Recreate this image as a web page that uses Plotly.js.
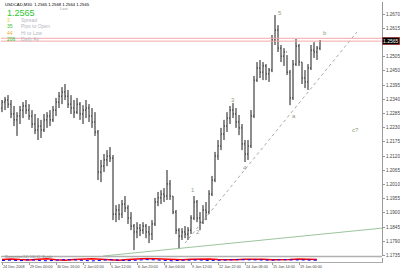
<!DOCTYPE html>
<html><head><meta charset="utf-8">
<script src="https://cdn.plot.ly/plotly-3.0.1.min.js"></script>
<style>html,body{margin:0;padding:0;background:#fff}#c{width:400px;height:270px}</style>
</head><body><div id="c"></div>
<script>
// ---- data (USDCAD M30) ----
const openP  = [1.2306,1.2329,1.2337,1.2321,1.2283,1.2260,1.2275,1.2298,1.2314,1.2298,1.2275,1.2244,1.2221,1.2236,1.2221,1.2260,1.2275,1.2260,1.2298,1.2329,1.2352,1.2368,1.2352,1.2321,1.2306,1.2290,1.2321,1.2283,1.2298,1.2306,1.2275,1.2252,1.2213,1.2058,1.2081,1.2105,1.2120,1.2112,1.1895,1.1911,1.1895,1.1934,1.1919,1.1880,1.1849,1.1826,1.1841,1.1833,1.1849,1.1826,1.1818,1.1857,1.1942,1.1958,1.1973,1.1965,1.2012,1.1965,1.1903,1.1833,1.1810,1.1826,1.1818,1.1833,1.1880,1.1942,1.1880,1.1864,1.1911,1.1903,1.1973,1.2027,1.2120,1.2159,1.2205,1.2236,1.2267,1.2298,1.2283,1.2252,1.2229,1.2167,1.2128,1.2159,1.2275,1.2414,1.2461,1.2445,1.2469,1.2438,1.2453,1.2569,1.2608,1.2538,1.2507,1.2523,1.2445,1.2345,1.2476,1.2546,1.2484,1.2422,1.2407,1.2461,1.2530,1.2523,1.2538];
const highP  = [1.2337,1.2349,1.2356,1.2337,1.2314,1.2290,1.2314,1.2329,1.2337,1.2321,1.2298,1.2283,1.2267,1.2260,1.2283,1.2290,1.2298,1.2314,1.2345,1.2368,1.2387,1.2399,1.2376,1.2356,1.2337,1.2345,1.2329,1.2317,1.2337,1.2321,1.2306,1.2290,1.2221,1.2105,1.2128,1.2143,1.2155,1.2124,1.1930,1.1934,1.1950,1.1965,1.1930,1.1903,1.1857,1.1864,1.1857,1.1864,1.1857,1.1849,1.1872,1.1958,1.1981,1.1988,1.1996,1.2066,1.2027,1.1965,1.1911,1.1841,1.1841,1.1849,1.1845,1.1891,1.1965,1.1950,1.1903,1.1930,1.1942,1.1988,1.2043,1.2136,1.2182,1.2229,1.2260,1.2290,1.2314,1.2325,1.2306,1.2279,1.2244,1.2182,1.2182,1.2298,1.2430,1.2484,1.2492,1.2484,1.2476,1.2461,1.2589,1.2666,1.2627,1.2550,1.2538,1.2511,1.2453,1.2492,1.2573,1.2554,1.2484,1.2453,1.2476,1.2550,1.2561,1.2546,1.2569];
const lowP   = [1.2290,1.2298,1.2306,1.2267,1.2236,1.2198,1.2244,1.2267,1.2283,1.2260,1.2229,1.2205,1.2182,1.2190,1.2213,1.2229,1.2236,1.2252,1.2275,1.2306,1.2321,1.2337,1.2306,1.2283,1.2267,1.2283,1.2260,1.2244,1.2267,1.2252,1.2229,1.2198,1.2027,1.2019,1.2058,1.2081,1.2097,1.1872,1.1864,1.1872,1.1880,1.1903,1.1857,1.1833,1.1756,1.1802,1.1810,1.1818,1.1802,1.1783,1.1795,1.1849,1.1926,1.1934,1.1942,1.1950,1.1950,1.1895,1.1818,1.1760,1.1795,1.1802,1.1795,1.1818,1.1872,1.1864,1.1833,1.1857,1.1872,1.1895,1.1965,1.2019,1.2105,1.2143,1.2182,1.2213,1.2244,1.2267,1.2229,1.2201,1.2143,1.2097,1.2105,1.2151,1.2267,1.2407,1.2422,1.2414,1.2414,1.2407,1.2445,1.2550,1.2523,1.2484,1.2469,1.2434,1.2317,1.2337,1.2469,1.2469,1.2399,1.2383,1.2376,1.2453,1.2500,1.2492,1.2530];
const closeP = [1.2329,1.2337,1.2321,1.2283,1.2260,1.2275,1.2298,1.2314,1.2298,1.2275,1.2244,1.2221,1.2236,1.2221,1.2260,1.2275,1.2260,1.2298,1.2329,1.2352,1.2368,1.2352,1.2321,1.2306,1.2290,1.2321,1.2283,1.2298,1.2306,1.2275,1.2252,1.2213,1.2058,1.2081,1.2105,1.2120,1.2112,1.1895,1.1911,1.1895,1.1934,1.1919,1.1880,1.1849,1.1826,1.1841,1.1833,1.1849,1.1826,1.1818,1.1857,1.1942,1.1958,1.1973,1.1965,1.2012,1.1965,1.1903,1.1833,1.1810,1.1826,1.1818,1.1833,1.1880,1.1942,1.1880,1.1864,1.1911,1.1903,1.1973,1.2027,1.2120,1.2159,1.2205,1.2236,1.2267,1.2298,1.2283,1.2252,1.2229,1.2167,1.2128,1.2159,1.2275,1.2414,1.2461,1.2445,1.2469,1.2438,1.2453,1.2569,1.2608,1.2538,1.2507,1.2523,1.2445,1.2345,1.2476,1.2546,1.2484,1.2422,1.2407,1.2461,1.2530,1.2523,1.2538,1.2565];

const timeTickIdx = [0,9,18,27,36,45,54,63,72,81,90,99];
const timeTickLabels = ["24 Dec 2008","29 Dec 00:00","30 Dec 16:00","2 Jan 02:00","5 Jan 12:00","6 Jan 20:00","8 Jan 04:00","9 Jan 12:00","12 Jan 22:00","14 Jan 06:00","15 Jan 14:00","19 Jan 00:00"];
const priceTicks = [1.1735,1.1790,1.1845,1.1900,1.1955,1.2010,1.2065,1.2120,1.2175,1.2230,1.2285,1.2340,1.2395,1.2450,1.2505,1.2560,1.2615,1.2670];

const bidPrice = 1.2565, askPrice = 1.2576;
const trendX = [33.7, 126.7], trendY = [1.1733, 1.1841];
const channelX = [61, 118.3], channelY = [1.1783, 1.2600];

const waveLabels = ["1","2","3","4","5","a","b","c?"];
const waveX = [63.7,65.3,77,81,92.7,97.3,107.7,117.7];
const waveY = [1.1988,1.1826,1.2337,1.2074,1.2674,1.2275,1.2596,1.2221];

const indIdx = [0,3,6,9,12,15,18,21,24,27,30,33,36,39,42,45,48,51,54,57,60,63,66,69,72,75,78,81,84,87,90,93,96,99,102,105];
const indRed  = [55,60,52,48,58,62,50,45,55,60,65,58,50,45,52,60,66,62,55,48,50,58,64,60,52,46,50,58,62,56,50,48,54,60,58,55];
const indBlue = [40,45,38,50,42,36,44,52,48,40,35,42,50,46,38,44,52,48,40,36,44,50,46,40,38,46,52,48,42,38,44,50,46,42,40,44];

const infoNums = ["3","35","44","206"];
const infoNumColors = ["#e0d020","#30c030","#e0b030","#30c030"];
const infoText = ["Spread","Pips to Open","Hi to Low","Daily Av"];

// ---- build ----
const idx = highP.map((_, i) => i);
const FONT = "Liberation Sans, Arial, sans-serif";

const traces = [
  {type:'ohlc', x: idx, open: openP, high: highP, low: lowP, close: closeP,
   increasing:{line:{color:'#000', width:0.9}}, decreasing:{line:{color:'#000', width:0.9}},
   tickwidth:0.25, hoverinfo:'skip', xaxis:'x', yaxis:'y'},
  {type:'scatter', mode:'lines', x: trendX, y: trendY, line:{color:'#9cc49c', width:1}, hoverinfo:'skip', xaxis:'x', yaxis:'y'},
  {type:'scatter', mode:'lines', x: channelX, y: channelY, line:{color:'#a8a8a8', width:1, dash:'dot'}, hoverinfo:'skip', xaxis:'x', yaxis:'y'},
  {type:'scatter', mode:'lines', x: indIdx, y: indRed, line:{color:'#ff0000', width:1.5}, hoverinfo:'skip', xaxis:'x', yaxis:'y2'},
  {type:'scatter', mode:'lines', x: indIdx, y: indBlue, line:{color:'#0000ff', width:1, dash:'dot'}, hoverinfo:'skip', xaxis:'x', yaxis:'y2'}
];

const H = 270, T = 2, B = 8, PH = H - T - B;
const py = p => (H - B - p) / PH;   // pixel row -> paper
const px = p => (p - 1) / 381;

const ann = [];
waveLabels.forEach((t, i) => ann.push({x: waveX[i], y: waveY[i], xref:'x', yref:'y', text: t, showarrow:false,
  font:{family:FONT, size:6, color:'#8aa080'}}));
timeTickLabels.forEach((t, i) => ann.push({x: timeTickIdx[i], y: py(266.5), xref:'x', yref:'paper',
  xanchor:'left', yanchor:'middle', showarrow:false, borderpad:0, text: t, font:{family:FONT, size:3.8, color:'#444'}}));
ann.push({x: px(3), y: py(4.5), xref:'paper', yref:'paper', xanchor:'left', yanchor:'middle', showarrow:false,
  text:'USDCAD,M30  1.2565 1.2568 1.2564 1.2565', font:{family:FONT, size:4.2, color:'#000'}});
ann.push({x: px(58), y: py(8), xref:'paper', yref:'paper', xanchor:'left', yanchor:'middle', showarrow:false,
  text:'Last', font:{family:FONT, size:4, color:'#999'}});
ann.push({x: px(5), y: py(13), xref:'paper', yref:'paper', xanchor:'left', yanchor:'middle', showarrow:false,
  text:'1.2565', font:{family:FONT, size:9, color:'#2dc52d'}});
infoNums.forEach((t, i) => {
  const r = 20 + i * 6.4;
  ann.push({x: px(5), y: py(r), xref:'paper', yref:'paper', xanchor:'left', yanchor:'middle', showarrow:false,
    text: t, font:{family:FONT, size:5, color: infoNumColors[i]}});
  ann.push({x: px(19), y: py(r), xref:'paper', yref:'paper', xanchor:'left', yanchor:'middle', showarrow:false,
    text: infoText[i], font:{family:FONT, size:5, color:'#b4b8c4'}});
});
ann.push({x: 1, y: bidPrice, xref:'paper', yref:'y', xanchor:'left', yanchor:'middle', showarrow:false,
  text:'1.2565', bgcolor:'#000', bordercolor:'#e04040', borderwidth:0.5, borderpad:0.5,
  font:{family:FONT, size:5, color:'#fff'}});
ann.push({x: px(3), y: py(256.6), xref:'paper', yref:'paper', xanchor:'left', yanchor:'middle', showarrow:false,
  text:'Momentum(14) 100.12  Bands', font:{family:FONT, size:3.5, color:'#888'}});

const shapes = [
  {type:'line', xref:'paper', x0:0, x1:1, yref:'y', y0:bidPrice, y1:bidPrice, line:{color:'#f2a8a8', width:1}},
  {type:'line', xref:'paper', x0:0, x1:1, yref:'y', y0:askPrice, y1:askPrice, line:{color:'#f2a8a8', width:1}},
  {type:'line', xref:'paper', x0:0, x1:1, yref:'paper', y0:py(256.6), y1:py(256.6), line:{color:'#b0b0b0', width:1.5}}
];

// the bid-price box covers the 1.2560 tick text, as in the reference
const priceTickText = priceTicks.map(v => Math.abs(v - bidPrice) < 0.001 ? '' : v.toFixed(4));

const layout = {
  width:400, height:270, margin:{l:1, r:18, t:T, b:B, pad:0},
  paper_bgcolor:'#fff', plot_bgcolor:'#fff', showlegend:false,
  font:{family:FONT, size:5, color:'#444'},
  xaxis:{range:[-1/3, 126.667], anchor:'y2', rangeslider:{visible:false}, showgrid:false, zeroline:false,
    tickmode:'array', tickvals: timeTickIdx, showticklabels:false, ticks:'outside', ticklen:1.5, tickcolor:'#999',
    showline:true, linecolor:'#aaa', linewidth:1},
  yaxis:{domain:[py(256), 1], range:[1.1733, 1.27165], side:'right', anchor:'x', showgrid:false, zeroline:false,
    tickmode:'array', tickvals: priceTicks, ticktext: priceTickText, ticks:'outside', ticklen:2, tickcolor:'#999',
    tickfont:{family:FONT, size:4.6, color:'#444'}, showline:true, linecolor:'#999', linewidth:1},
  yaxis2:{domain:[0, py(257.5)], range:[20, 80], side:'right', anchor:'x', showgrid:false, zeroline:false,
    showticklabels:false, ticks:'', showline:true, linecolor:'#999', linewidth:1},
  annotations: ann, shapes: shapes
};

Plotly.newPlot('c', traces, layout, {staticPlot:true, displayModeBar:false});
</script></body></html>
